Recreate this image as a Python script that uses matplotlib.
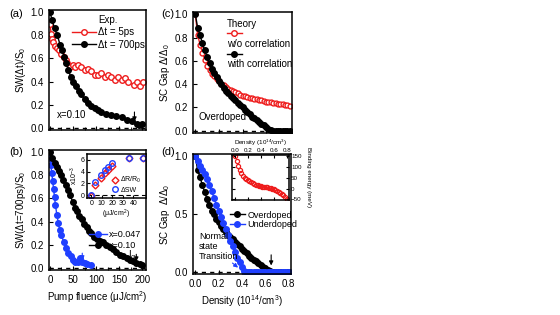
import matplotlib
matplotlib.use('Agg')
import matplotlib.pyplot as plt
from matplotlib.lines import Line2D
from matplotlib.ticker import MultipleLocator

plt.rcParams['font.family'] = ['Liberation Sans', 'DejaVu Sans']
plt.rcParams['mathtext.fontset'] = 'custom'
plt.rcParams['mathtext.rm'] = 'Liberation Sans'
plt.rcParams['mathtext.it'] = 'Liberation Sans:italic'
plt.rcParams['font.size'] = 7

# (a) experiment, x=0.10
fl_5ps = [0, 3, 5, 7, 10, 15, 20, 25, 31, 35, 38, 44, 49, 54, 60, 67, 75, 82, 89, 97,
          104, 111, 119, 126, 133, 141, 148, 155, 163, 170, 181, 188, 196, 201]
sw_5ps = [0.90, 0.81, 0.77, 0.74, 0.71, 0.69, 0.67, 0.64, 0.61, 0.59, 0.56, 0.53, 0.54, 0.53,
          0.54, 0.53, 0.50, 0.51, 0.49, 0.46, 0.46, 0.47, 0.44, 0.46, 0.44, 0.41, 0.44, 0.41,
          0.43, 0.40, 0.37, 0.40, 0.36, 0.40]
fl_700ps = [0, 5, 10, 16, 22, 27, 31, 35, 40, 45, 50, 56, 62, 67, 75, 82, 90, 97, 104,
            111, 122, 133, 144, 155, 166, 177, 188, 193, 199]
sw_700ps = [1.00, 0.93, 0.86, 0.80, 0.72, 0.67, 0.61, 0.56, 0.50, 0.44, 0.40, 0.36, 0.32,
            0.29, 0.25, 0.21, 0.19, 0.17, 0.15, 0.14, 0.12, 0.11, 0.10, 0.09, 0.07, 0.06,
            0.03, 0.02, 0.03]

# (b) SW at 700 ps
fl_x010 = [0, 5, 10, 15, 19, 24, 29, 34, 39, 44, 49, 54, 59, 64, 69, 74, 80, 85, 90, 96,
           102, 108, 115, 122, 129, 136, 143, 151, 158, 166, 173, 180, 187, 194, 200]
sw_x010 = [1.00, 0.95, 0.91, 0.87, 0.84, 0.80, 0.76, 0.72, 0.67, 0.63, 0.57, 0.52, 0.49,
           0.45, 0.42, 0.38, 0.35, 0.32, 0.30, 0.27, 0.25, 0.23, 0.22, 0.20, 0.18, 0.16,
           0.14, 0.11, 0.10, 0.08, 0.07, 0.06, 0.04, 0.03, 0.02]
fl_x047 = [0, 2, 4, 6, 8, 10, 12, 15, 18, 21, 25, 30, 35, 40, 45, 50, 55, 60, 65, 70,
           75, 80, 90]
sw_x047 = [0.95, 0.89, 0.82, 0.75, 0.68, 0.61, 0.54, 0.46, 0.39, 0.33, 0.28, 0.22, 0.17,
           0.13, 0.10, 0.07, 0.05, 0.05, 0.08, 0.05, 0.04, 0.03, 0.02]

# (b) inset
ins_fl = [0, 4, 9, 13, 16, 20, 36, 49]
ins_dr = [-0.1, 1.7, 2.9, 3.7, 4.3, 4.9, 6.3, 6.3]
ins_dsw = [0.0, 2.3, 3.4, 4.3, 4.8, 5.5, 6.4, 6.3]

# (c), (d) theory
dens = [0.00, 0.02, 0.04, 0.06, 0.08, 0.10, 0.12, 0.14, 0.16, 0.18, 0.20, 0.22, 0.24,
        0.26, 0.28, 0.30, 0.32, 0.34, 0.36, 0.38, 0.40, 0.42, 0.44, 0.46, 0.48, 0.50,
        0.52, 0.54, 0.56, 0.58, 0.60, 0.62, 0.64, 0.66, 0.68, 0.70, 0.72, 0.74, 0.76,
        0.78, 0.80]
gap_wo = [1.00, 0.82, 0.74, 0.67, 0.61, 0.56, 0.52, 0.49, 0.47, 0.445, 0.425, 0.405, 0.39,
          0.375, 0.36, 0.35, 0.34, 0.33, 0.32, 0.31, 0.30, 0.295, 0.29, 0.285, 0.28, 0.275,
          0.27, 0.265, 0.26, 0.255, 0.25, 0.248, 0.245, 0.24, 0.237, 0.233, 0.23, 0.226,
          0.222, 0.218, 0.215]
gap_with = [1.00, 0.88, 0.82, 0.75, 0.69, 0.63, 0.58, 0.53, 0.50, 0.46, 0.43, 0.40, 0.37,
            0.345, 0.32, 0.30, 0.28, 0.26, 0.24, 0.22, 0.20, 0.18, 0.16, 0.14, 0.12, 0.105,
            0.09, 0.075, 0.06, 0.045, 0.03, 0.015, 0.005, 0.0, 0.0, 0.0, 0.0, 0.0, 0.0,
            0.0, 0.0]
gap_under = [1.00, 0.96, 0.92, 0.88, 0.85, 0.80, 0.75, 0.70, 0.64, 0.58, 0.53, 0.47, 0.42,
             0.37, 0.32, 0.27, 0.22, 0.17, 0.12, 0.08, 0.04, 0.01, 0.0, 0.0, 0.0, 0.0,
             0.0, 0.0, 0.0, 0.0, 0.0, 0.0, 0.0, 0.0, 0.0, 0.0, 0.0, 0.0, 0.0, 0.0, 0.0]

# (d) inset binding energy
be_dens = [0, 0.025, 0.05, 0.075, 0.1, 0.125, 0.15, 0.175, 0.2, 0.225, 0.25, 0.275, 0.3,
           0.325, 0.35, 0.375, 0.4, 0.425, 0.45, 0.475, 0.5, 0.525, 0.55, 0.575, 0.6,
           0.625, 0.65, 0.675, 0.7, 0.725, 0.75, 0.775, 0.8]
be_mev = [150, 128, 106, 87, 72, 60, 51, 44, 38, 33, 28, 24, 21, 18, 15, 13, 11, 9, 8, 6,
          5, 3, 1, -1, -3, -6, -10, -14, -19, -25, -32, -40, -48]

RED = '#ee1c1c'
BLUE = '#1f3fff'
W, H = 560, 315


def px_rect(l, t, r, b):
    return [l / W, 1 - b / H, (r - l) / W, (b - t) / H]


def style(ax, size=7):
    ax.tick_params(direction='in', labelsize=size, width=0.8, length=3)
    ax.tick_params(which='minor', direction='in', width=0.6, length=2)
    for s in ax.spines.values():
        s.set_linewidth(1.1)


def zero_line(ax):
    ax.axhline(0, color='k', ls=(0, (3, 3)), lw=1)


def down_arrow(ax, x, y0, y1, color='k'):
    ax.annotate('', xy=(x, y1), xytext=(x, y0),
                arrowprops=dict(arrowstyle='-|>', color=color, lw=0.8, mutation_scale=6))


fig = plt.figure(figsize=(5.6, 3.15), dpi=100)

# ---- (a)
ax = fig.add_axes(px_rect(49, 10, 146, 130))
style(ax)
zero_line(ax)
ax.plot(fl_5ps, sw_5ps, '-o', color=RED, mfc='white', mec=RED, ms=4, lw=1, mew=1,
        label='Δt = 5ps')
ax.plot(fl_700ps, sw_700ps, '-o', color='k', ms=4, lw=1, label='Δt = 700ps')
ax.set_xlim(-2, 208)
ax.set_ylim(-0.02, 1.02)
ax.xaxis.set_major_locator(MultipleLocator(50))
ax.xaxis.set_minor_locator(MultipleLocator(25))
ax.set_xticklabels([])
ax.set_yticks([0, 0.2, 0.4, 0.6, 0.8, 1.0])
ax.set_ylabel('SW(Δt)/S$_0$', labelpad=2)
ax.legend(title='Exp.', loc='upper left', frameon=False, fontsize=7, title_fontsize=7,
          handlelength=2.4, handletextpad=0.2, labelspacing=0.25, borderpad=0,
          borderaxespad=0, bbox_to_anchor=(0.24, 0.96))
ax.text(15, 0.08, 'x=0.10', fontsize=7)
down_arrow(ax, 183, 0.16, 0.03)
fig.text(9 / W, 1 - 14 / H, '(a)', fontsize=8, va='center')

# ---- (b)
ax = fig.add_axes(px_rect(49, 150, 146, 270))
style(ax)
zero_line(ax)
ax.plot(fl_x047, sw_x047, '-o', color=BLUE, ms=4, lw=1, label='x=0.047')
ax.plot(fl_x010, sw_x010, '-o', color='k', ms=4, lw=1, label='x=0.10')
ax.set_xlim(-2, 208)
ax.set_ylim(-0.02, 1.02)
ax.xaxis.set_major_locator(MultipleLocator(50))
ax.xaxis.set_minor_locator(MultipleLocator(25))
ax.set_yticks([0, 0.2, 0.4, 0.6, 0.8, 1.0])
ax.set_ylabel('SW(Δt=700ps)/S$_0$', labelpad=2)
ax.set_xlabel('Pump fluence (μJ/cm$^2$)', labelpad=3)
ax.legend(loc='center left', frameon=False, fontsize=6.5, handlelength=2.0,
          handletextpad=0.2, labelspacing=0.15, borderpad=0, borderaxespad=0,
          bbox_to_anchor=(0.41, 0.25))
ax.text(170, 0.07, 'I$_q$', fontsize=7)
down_arrow(ax, 187, 0.14, 0.03)
down_arrow(ax, 70, 0.15, 0.04, BLUE)
fig.text(9 / W, 1 - 152 / H, '(b)', fontsize=8, va='center')

# ---- (b) inset
ax = fig.add_axes(px_rect(87, 154, 146, 198))
style(ax, 5)
ax.tick_params(length=2, pad=1.5)
ax.axhline(0, color='k', ls=(0, (4, 3)), lw=0.8)
ax.plot(ins_fl, ins_dr, 'D', mfc='none', mec=RED, ms=3.5, mew=1, ls='none', label='ΔR/R$_0$')
ax.plot(ins_fl, ins_dsw, 'o', mfc='none', mec=BLUE, ms=4, mew=1, ls='none', label='ΔSW')
ax.set_xlim(-4, 52)
ax.set_ylim(-0.5, 7.0)
ax.set_xticks([0, 10, 20, 30, 40])
ax.set_yticks([0, 2, 4, 6])
ax.set_xlabel('(μJ/cm$^2$)', fontsize=5, labelpad=0.5)
ax.set_ylabel('x10$^{-3}$', fontsize=5, labelpad=0.5)
ax.legend(loc='lower right', frameon=False, fontsize=5, handlelength=1,
          handletextpad=0.3, labelspacing=0.2, borderaxespad=0.2)

# ---- (c)
ax = fig.add_axes(px_rect(193, 12, 292, 133))
style(ax)
zero_line(ax)
ax.plot(dens, gap_wo, '-o', color=RED, mfc='white', mec=RED, ms=3.5, lw=1, mew=1)
ax.plot(dens, gap_with, '-o', color='k', ms=4, lw=1)
ax.set_xlim(-0.02, 0.82)
ax.set_ylim(-0.02, 1.02)
ax.set_xticks([0, 0.2, 0.4, 0.6, 0.8])
ax.set_xticklabels([])
ax.set_yticks([0, 0.2, 0.4, 0.6, 0.8, 1.0])
ax.set_ylabel('SC Gap Δ/Δ$_0$', labelpad=2)
h_red = Line2D([], [], color=RED, marker='o', mfc='white', mec=RED, ms=4, lw=1)
h_blk = Line2D([], [], color='k', marker='o', ms=4, lw=1)
h_none = Line2D([], [], color='none')
ax.legend([h_red, h_none, h_blk, h_none],
          ['', 'w/o correlation', '', 'with correlation'],
          title='Theory', loc='upper left', frameon=False, fontsize=7,
          title_fontsize=7, handlelength=1.6, handletextpad=-1.6,
          labelspacing=0.02, borderpad=0, borderaxespad=0,
          bbox_to_anchor=(0.34, 0.945), alignment='left')
ax.text(0.03, 0.09, 'Overdoped', fontsize=7)
fig.text(161 / W, 1 - 14 / H, '(c)', fontsize=8, va='center')

# ---- (d)
ax = fig.add_axes(px_rect(193, 154, 291, 274))
style(ax)
zero_line(ax)
ax.plot(dens, gap_with, '-o', color='k', ms=4, lw=1, label='Overdoped')
ax.plot(dens, gap_under, '-o', color=BLUE, ms=4, lw=1, label='Underdoped')
ax.set_xlim(-0.02, 0.82)
ax.set_ylim(-0.02, 1.02)
ax.set_xticks([0, 0.2, 0.4, 0.6, 0.8])
ax.set_yticks([0, 0.5, 1.0])
ax.set_ylabel('SC Gap  Δ/Δ$_0$', labelpad=2)
ax.set_xlabel('Density (10$^{14}$/cm$^3$)', labelpad=3)
ax.legend(loc='center left', frameon=False, fontsize=6.5, handlelength=1.6,
          handletextpad=0.3, labelspacing=0.1, borderpad=0, borderaxespad=0,
          bbox_to_anchor=(0.38, 0.45))
ax.text(0.03, 0.11, 'Normal\nstate\nTransition', fontsize=6.5, linespacing=1.15)
ax.annotate('', xy=(0.385, 0.02), xytext=(0.3, 0.09),
            arrowprops=dict(arrowstyle='-|>', color=BLUE, lw=0.8, mutation_scale=6))
down_arrow(ax, 0.65, 0.17, 0.03)
fig.text(161 / W, 1 - 152 / H, '(d)', fontsize=8, va='center')

# ---- (d) inset
ax = fig.add_axes(px_rect(232, 155, 289, 200))
style(ax, 4.5)
ax.tick_params(length=2, pad=1.5, top=True, right=True, labeltop=True, labelbottom=False,
               labelright=True, labelleft=False)
ax.plot(be_dens, be_mev, 'o', mfc='none', mec=RED, ms=3, mew=0.9, ls='none')
ax.set_xlim(-0.045, 0.835)
ax.set_ylim(-53, 155)
ax.set_xticks([0, 0.2, 0.4, 0.6, 0.8])
ax.set_xticklabels(['0.0', '0.2', '0.4', '0.6', '0.8'])
ax.set_yticks([-50, 0, 50, 100, 150])
ax.xaxis.set_label_position('top')
ax.yaxis.set_label_position('right')
ax.set_xlabel('Density (10$^{14}$/cm$^3$)', fontsize=4.5, labelpad=2)
ax.set_ylabel('Binding energy (meV)', fontsize=4.5, rotation=270, labelpad=7)

fig.savefig('out.png', dpi=100)
